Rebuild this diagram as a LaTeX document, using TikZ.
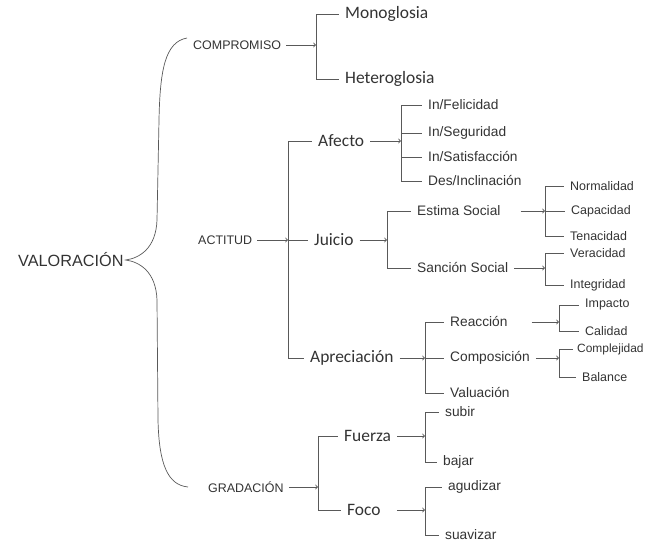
\documentclass[tikz,border=0pt]{standalone}
\usepackage{fontspec}
\setmainfont{Liberation Sans}
\newfontfamily\calfont{Carlito}
\usetikzlibrary{arrows,positioning}

\begin{document}
\begin{tikzpicture}[x=1bp,y=-1bp,>=to,
    every node/.style={anchor=west,text=black!80,inner ysep=1bp},
    root/.style={font=\fontsize{16.3}{19}\selectfont,inner xsep=2bp},
    cat/.style={font=\fontsize{12.5}{15}\selectfont,inner xsep=5bp},
    sys/.style={font=\calfont\fontsize{17.5}{21}\selectfont,inner xsep=6bp},
    opt/.style={font=\fontsize{13.8}{16}\selectfont,inner xsep=6bp},
    leaf/.style={font=\fontsize{12.5}{15}\selectfont,inner xsep=6bp},
    line/.style={draw=black!65,line width=0.9bp}]
        \useasboundingbox (0,0) rectangle (647,545);
        % first level
        \node[root] (Valoracion) at (16,260) {VALORACIÓN};
        \node[cat] (Compromiso) at (188,45) {COMPROMISO};
        \node[cat] (Actitud) at (193,240) {ACTITUD};
        \node[cat] (Gradacion) at (203,487) {GRADACIÓN};
        \coordinate (bTop) at (187,38);
        \coordinate (bBot) at (188,487);
        \draw[line,line width=0.7bp] (bTop) .. controls (165,42) and (160,70) .. (159,120) -- (157,220)
            .. controls (156,248) and (140,258) .. (Valoracion.east)
            .. controls (140,262) and (156,272) .. (157,300) -- (158,420)
            .. controls (159,465) and (168,485) .. (bBot);
        % systems
        \node[sys] (Mono) at (339,14) {Monoglosia};
        \node[sys] (Hetero) at (339,79) {Heteroglosia};
        \node[sys] (Afecto) at (312,141) {Afecto};
        \node[sys] (Juicio) at (308,240) {Juicio};
        \node[sys] (Apreciacion) at (304,358) {Apreciación};
        \node[sys] (Fuerza) at (338,436) {Fuerza};
        \node[sys] (Foco) at (341,510) {Foco};
        \coordinate (cB) at (316,45);
        \coordinate (aB) at (288,240);
        \coordinate (gB) at (318,487);
        \draw[line,->] (Compromiso) -- (cB);
        \draw[line] (cB) |- (Mono);
        \draw[line] (cB) |- (Hetero);
        \draw[line,->] (Actitud) -- (aB);
        \draw[line] (aB) |- (Afecto);
        \draw[line] (aB) -- (Juicio);
        \draw[line] (aB) |- (Apreciacion);
        \draw[line,->] (Gradacion) -- (gB);
        \draw[line] (gB) |- (Fuerza);
        \draw[line] (gB) |- (Foco);
        % options
        \node[opt] (Felicidad) at (422,105) {In/Felicidad};
        \node[opt] (Seguridad) at (422,133) {In/Seguridad};
        \node[opt] (Satisfaccion) at (422,157) {In/Satisfacción};
        \node[opt] (Inclinacion) at (422,181) {Des/Inclinación};
        \node[opt] (Estima) at (411,211) {Estima Social};
        \node[opt] (Sancion) at (411,268) {Sanción Social};
        \node[opt] (Reaccion) at (444,322) {Reacción};
        \node[opt] (Composicion) at (444,358) {Composición};
        \node[opt] (Valuacion) at (444,393) {Valuación};
        \node[opt] (Subir) at (439,412) {subir};
        \node[opt] (Bajar) at (437,462) {bajar};
        \node[opt] (Agudizar) at (442,487) {agudizar};
        \node[opt] (Suavizar) at (439,535) {suavizar};
        \coordinate (afB) at (401,141);
        \coordinate (jB) at (387,240);
        \coordinate (apB) at (425,358);
        \coordinate (fB) at (425,436);
        \coordinate (foB) at (425,510);
        \draw[line,->] (Afecto) -- (afB);
        \draw[line] (afB) |- (Felicidad);
        \draw[line] (afB) |- (Seguridad);
        \draw[line] (afB) |- (Satisfaccion);
        \draw[line] (afB) |- (Inclinacion);
        \draw[line,->] (Juicio) -- (jB);
        \draw[line] (jB) |- (Estima);
        \draw[line] (jB) |- (Sancion);
        \draw[line,->] (Apreciacion) -- (apB);
        \draw[line] (apB) |- (Reaccion);
        \draw[line] (apB) -- (Composicion);
        \draw[line] (apB) |- (Valuacion);
        \draw[line,->] (Fuerza) -- (fB);
        \draw[line] (fB) |- (Subir);
        \draw[line] (fB) |- (Bajar);
        \draw[line,->,shorten <=10bp] (Foco) -- (foB);
        \draw[line] (foB) |- (Agudizar);
        \draw[line] (foB) |- (Suavizar);
        % leaves
        \node[leaf] (Normalidad) at (564,186) {Normalidad};
        \node[leaf] (Capacidad) at (565,211) {Capacidad};
        \node[leaf] (Tenacidad) at (564,236) {Tenacidad};
        \node[leaf] (Veracidad) at (564,253) {Veracidad};
        \node[leaf] (Integridad) at (564,285) {Integridad};
        \node[leaf] (Impacto) at (579,305) {Impacto};
        \node[leaf] (Calidad) at (579,331) {Calidad};
        \node[leaf,font=\fontsize{12}{14}\selectfont,inner xsep=4bp] (Complejidad) at (573,349) {Complejidad};
        \node[leaf] (Balance) at (576,377) {Balance};
        \coordinate (esB) at (545,211);
        \coordinate (ssB) at (545,268);
        \coordinate (reB) at (559,322);
        \coordinate (coB) at (559,358);
        \draw[line,->,shorten <=14bp] (Estima) -- (esB);
        \draw[line] (esB) |- (Normalidad);
        \draw[line] (esB) -- (Capacidad);
        \draw[line] (esB) |- (Tenacidad);
        \draw[line,->] (Sancion) -- (ssB);
        \draw[line] (ssB) |- (Veracidad);
        \draw[line] (ssB) |- (Integridad);
        \draw[line,->,shorten <=18bp] (Reaccion) -- (reB);
        \draw[line] (reB) |- (Impacto);
        \draw[line] (reB) |- (Calidad);
        \draw[line,->] (Composicion) -- (coB);
        \draw[line] (coB) |- (Complejidad);
        \draw[line] (coB) |- (Balance);
      \end{tikzpicture}
\end{document}
